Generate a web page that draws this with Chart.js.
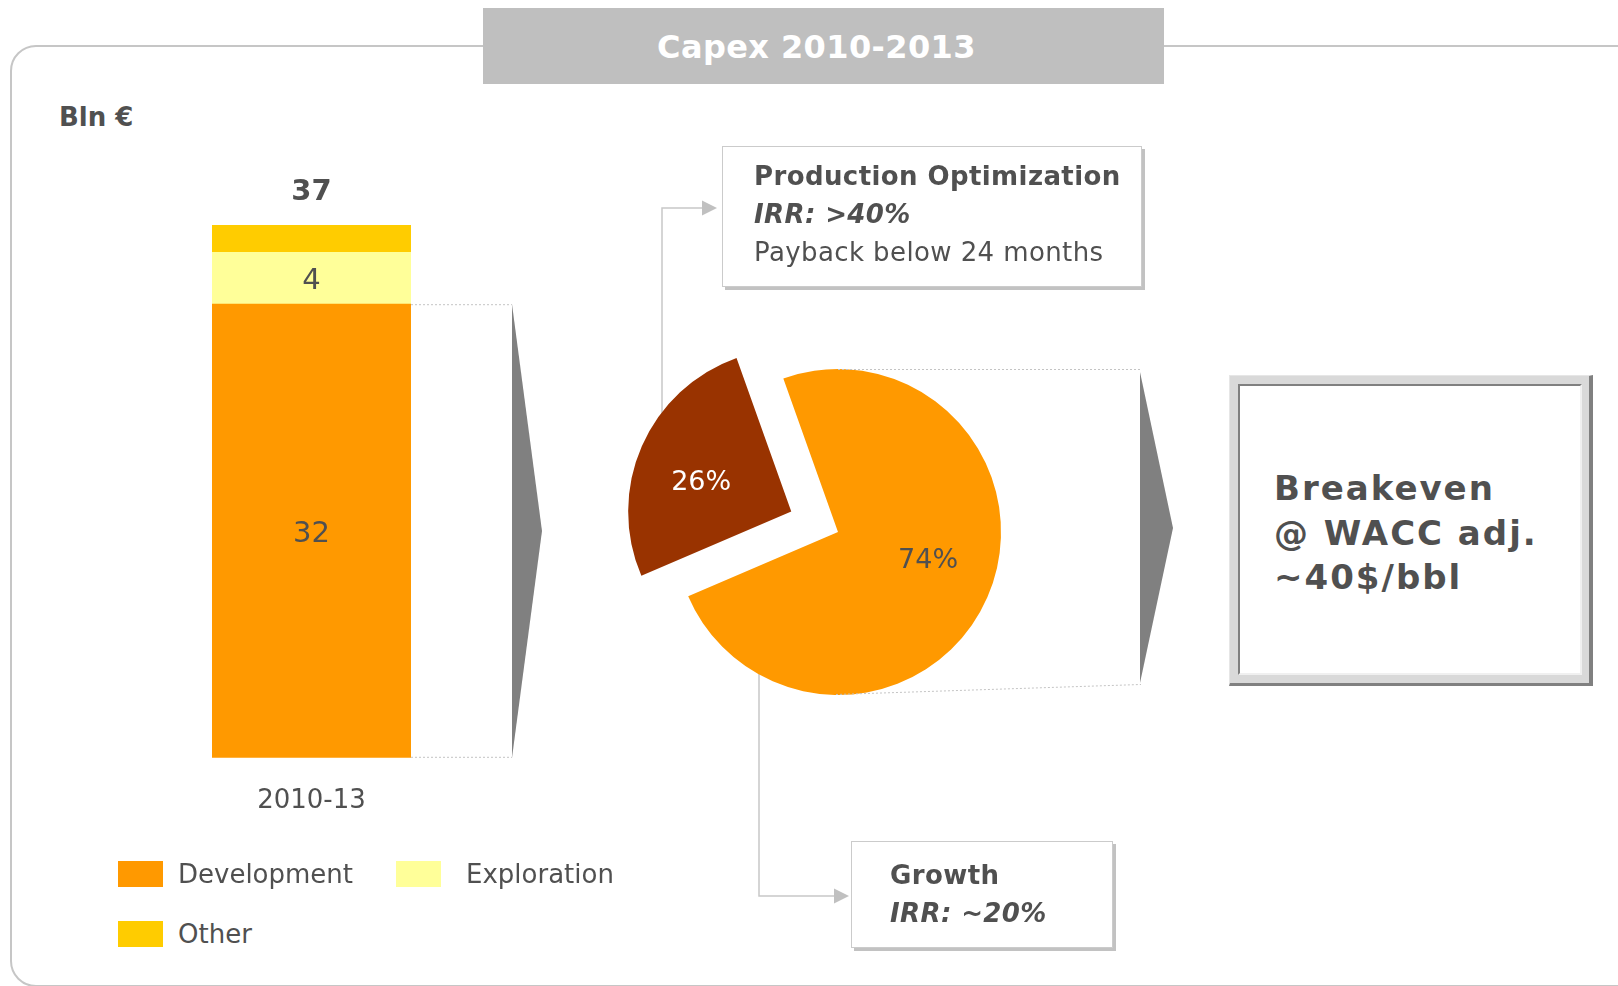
<!DOCTYPE html>
<html lang="en">
<head>
<meta charset="utf-8">
<title>Capex 2010-2013</title>
<script src="https://cdn.jsdelivr.net/npm/chart.js@4.4.1/dist/chart.umd.min.js"></script>
<style>
  html, body { margin: 0; padding: 0; background: #fff; }
  body {
    position: relative; width: 1618px; height: 986px; overflow: hidden;
    font-family: "DejaVu Sans", sans-serif; color: #505050;
  }
  .abs { position: absolute; }
  #frame {
    left: 10px; top: 45px; width: 1640px; height: 942px; box-sizing: border-box;
    border: 2px solid #c6c6c6; border-radius: 26px;
  }
  #title {
    left: 483px; top: 8px; width: 681px; height: 76px; background: #bfbfbf;
    color: #fff; font-weight: bold; font-size: 32px; line-height: 78px; letter-spacing: 0.4px;
    text-align: center; text-indent: -14px; white-space: nowrap;
  }
  #unit { left: 59px; top: 102px; font-weight: bold; font-size: 26px; line-height: 30px; }
  canvas { position: absolute; }
  #barChart { left: 0; top: 100px; }
  #pieChart { left: 588px; top: 190px; }
  .note {
    position: absolute; background: #fff; border: 1px solid #cbcbcb;
    box-shadow: 3px 3px 0 #c2c2c2; box-sizing: border-box;
    font-size: 26px; line-height: 38px; white-space: nowrap; letter-spacing: 0.4px;
  }
  .note b { font-weight: bold; }
  .note i { font-weight: bold; font-style: italic; }
  #noteProd { left: 722px; top: 146px; width: 420px; height: 141px; padding: 10px 0 0 31px; }
  #noteGrowth { left: 851px; top: 841px; width: 262px; height: 107px; padding: 14px 0 0 38px; }
  #beOuter {
    left: 1229px; top: 375px; width: 364px; height: 311px; box-sizing: border-box;
    background: #d9d9d9;
    border-top: 1px solid #e6e6e6; border-left: 1px solid #e6e6e6;
    border-right: 4px solid #808080; border-bottom: 3px solid #808080;
  }
  #beInner {
    position: absolute; left: 8px; top: 8px; right: 7px; bottom: 8px; background: #fff;
    border-top: 2px solid #808080; border-left: 2px solid #808080;
    border-right: 2px solid #f0f0f0; border-bottom: 2px solid #f0f0f0;
  }
  #beText {
    left: 1274px; top: 466px; font-weight: bold; font-size: 34px; line-height: 44.5px;
    letter-spacing: 2px; white-space: nowrap;
  }
  .legend-item { position: absolute; font-size: 26px; line-height: 26px; white-space: nowrap; }
  .legend-item .sw { position: absolute; left: 0; top: 0; width: 45px; height: 26px; }
  .legend-item .lbl { position: absolute; top: 0; }
</style>
</head>
<body>
<div id="frame" class="abs"></div>
<div id="title" class="abs">Capex 2010-2013</div>
<div id="unit" class="abs">Bln €</div>

<canvas id="barChart" width="560" height="760"></canvas>
<canvas id="pieChart" width="620" height="720"></canvas>

<div id="noteProd" class="note">
  <b>Production Optimization</b><br>
  <i>IRR: &gt;40%</i><br>
  Payback below 24 months
</div>
<div id="noteGrowth" class="note">
  <b>Growth</b><br>
  <i>IRR: ~20%</i>
</div>

<div id="beOuter" class="abs"><div id="beInner"></div></div>
<div id="beText" class="abs">Breakeven<br>@ WACC adj.<br>~40$/bbl</div>

<div id="legend"></div>

<script>
// capex 2010-13, Bln €
const barCategories = ['2010-13'];
const seriesNames = ['Development', 'Exploration', 'Other'];
const developmentCapex = [31.5];
const explorationCapex = [3.6];
const otherCapex = [1.9];

// split of development capex, %
const pieCategories = ['Production Optimization', 'Growth'];
const pieShares = [26, 74];

const seriesColors = ['#ff9900', '#ffff99', '#ffcc00'];
const pieColors = ['#993300', '#ff9900'];
const pieLabelColors = ['#ffffff', '#505050'];
const TEXT = '#505050';
const FONT = '"DejaVu Sans", sans-serif';

const barTotal = developmentCapex[0] + explorationCapex[0] + otherCapex[0];

// legend (two columns, like the slide)
const legendEl = document.getElementById('legend');
seriesNames.forEach((name, i) => {
  const col = i % 2, row = Math.floor(i / 2);
  const item = document.createElement('div');
  item.className = 'legend-item';
  item.style.left = (118 + col * 278) + 'px';
  item.style.top = (861 + row * 60) + 'px';
  item.innerHTML = `<span class="sw" style="background:${seriesColors[i]}"></span>` +
    `<span class="lbl" style="left:${col ? 70 : 60}px">${name}</span>`;
  legendEl.appendChild(item);
});

// values in the bar, total on top, dotted guides + chevron
const barDecor = {
  id: 'barDecor',
  afterDatasetsDraw(chart) {
    const ctx = chart.ctx;
    const yScale = chart.scales.y;
    ctx.save();
    ctx.textAlign = 'center';
    ctx.textBaseline = 'middle';
    ctx.fillStyle = TEXT;
    ctx.font = '29px ' + FONT;
    chart.data.datasets.forEach((ds, i) => {
      chart.getDatasetMeta(i).data.forEach((bar, j) => {
        const v = ds.data[j];
        if (v < 3) return; // too thin for a label
        ctx.fillText(Math.round(v), bar.x, (bar.y + bar.base) / 2 + 3);
      });
    });
    ctx.font = 'bold 29px ' + FONT;
    barCategories.forEach((c, j) => {
      const total = chart.data.datasets.reduce((s, ds) => s + ds.data[j], 0);
      ctx.fillText(Math.round(total), chart.scales.x.getPixelForValue(j), yScale.getPixelForValue(total) - 33);
    });

    const dev = chart.getDatasetMeta(0).data[0];
    const right = dev.x + dev.width / 2;
    const top = dev.y, bottom = dev.base;
    const ax = right + 101;
    ctx.strokeStyle = '#c4c4c4';
    ctx.lineWidth = 1;
    ctx.setLineDash([2, 2]);
    ctx.beginPath();
    ctx.moveTo(right, top + 0.5); ctx.lineTo(ax, top + 0.5);
    ctx.moveTo(right, bottom - 0.5); ctx.lineTo(ax, bottom - 0.5);
    ctx.stroke();
    ctx.setLineDash([]);
    ctx.fillStyle = '#808080';
    ctx.beginPath();
    ctx.moveTo(ax, top);
    ctx.lineTo(ax + 30, (top + bottom) / 2);
    ctx.lineTo(ax, bottom);
    ctx.closePath();
    ctx.fill();
    ctx.restore();
  }
};

new Chart(document.getElementById('barChart'), {
  type: 'bar',
  data: {
    labels: barCategories,
    datasets: [
      { label: seriesNames[0], data: developmentCapex, backgroundColor: seriesColors[0] },
      { label: seriesNames[1], data: explorationCapex, backgroundColor: seriesColors[1] },
      { label: seriesNames[2], data: otherCapex, backgroundColor: seriesColors[2] }
    ]
  },
  options: {
    responsive: false,
    animation: false,
    events: [],
    datasets: { bar: { barPercentage: 1, categoryPercentage: 1, borderWidth: 0 } },
    layout: { padding: { left: 212, right: 149, top: 125, bottom: 15 } },
    plugins: { legend: { display: false }, tooltip: { enabled: false } },
    scales: {
      x: {
        stacked: true,
        grid: { display: false, drawTicks: false },
        border: { display: false },
        ticks: { color: TEXT, font: { family: FONT, size: 26 }, padding: 28 }
      },
      y: { stacked: true, display: false, min: 0, max: barTotal }
    }
  },
  plugins: [barDecor]
});

// connectors behind the pie, labels / guides / chevron on top
function arrowHead(ctx, x, y) {
  ctx.beginPath();
  ctx.moveTo(x, y - 7.5);
  ctx.lineTo(x + 15, y);
  ctx.lineTo(x, y + 7.5);
  ctx.closePath();
  ctx.fill();
}

const pieDecor = {
  id: 'pieDecor',
  beforeDatasetsDraw(chart) {
    const ctx = chart.ctx;
    const a = chart.getDatasetMeta(0).data[0];
    const cx = a.x, cy = a.y;
    ctx.save();
    ctx.strokeStyle = '#c8c8c8';
    ctx.lineWidth = 1.5;
    ctx.beginPath();
    ctx.moveTo(cx - 176, cy - 30); ctx.lineTo(cx - 176, cy - 324); ctx.lineTo(cx - 136, cy - 324);
    ctx.moveTo(cx - 79, cy + 60); ctx.lineTo(cx - 79, cy + 364); ctx.lineTo(cx - 4, cy + 364);
    ctx.stroke();
    ctx.fillStyle = '#c0c0c0';
    arrowHead(ctx, cx - 136, cy - 324);
    arrowHead(ctx, cx - 4, cy + 364);
    ctx.restore();
  },
  afterDatasetsDraw(chart) {
    const ctx = chart.ctx;
    const meta = chart.getDatasetMeta(0);
    const a0 = meta.data[0];
    const cx = a0.x, cy = a0.y, r = a0.outerRadius;
    ctx.save();
    ctx.textAlign = 'center';
    ctx.textBaseline = 'middle';
    ctx.font = '27px ' + FONT;
    meta.data.forEach((a, i) => {
      const mid = (a.startAngle + a.endAngle) / 2;
      const shift = (a.options.offset || 0) / 4;
      const ang = mid - 6 * Math.PI / 180;
      const d = 0.58 * a.outerRadius;
      const x = a.x + Math.cos(mid) * shift + Math.cos(ang) * d;
      const y = a.y + Math.sin(mid) * shift + Math.sin(ang) * d;
      ctx.fillStyle = pieLabelColors[i];
      ctx.fillText(pieShares[i] + '%', x, y);
    });

    const ax = cx + 302;
    ctx.strokeStyle = '#c4c4c4';
    ctx.lineWidth = 1;
    ctx.setLineDash([2, 2]);
    ctx.beginPath();
    ctx.moveTo(cx, cy - r + 0.5); ctx.lineTo(ax, cy - r + 0.5);
    ctx.moveTo(cx - 2, cy + r - 0.5); ctx.lineTo(ax + 1, cy + r - 10.5);
    ctx.stroke();
    ctx.setLineDash([]);
    ctx.fillStyle = '#808080';
    ctx.beginPath();
    ctx.moveTo(ax, cy - 160);
    ctx.lineTo(ax + 33, cy - 4);
    ctx.lineTo(ax, cy + 151);
    ctx.closePath();
    ctx.fill();
    ctx.restore();
  }
};

new Chart(document.getElementById('pieChart'), {
  type: 'pie',
  data: {
    labels: pieCategories,
    datasets: [{
      data: pieShares,
      backgroundColor: pieColors,
      borderWidth: 0,
      offset: [204, 0],
      clip: false
    }]
  },
  options: {
    responsive: false,
    animation: false,
    events: [],
    radius: 163,
    rotation: 246.8,
    layout: { padding: { left: 0, right: 120, top: 92, bottom: 128 } },
    plugins: { legend: { display: false }, tooltip: { enabled: false } }
  },
  plugins: [pieDecor]
});
</script>
</body>
</html>
